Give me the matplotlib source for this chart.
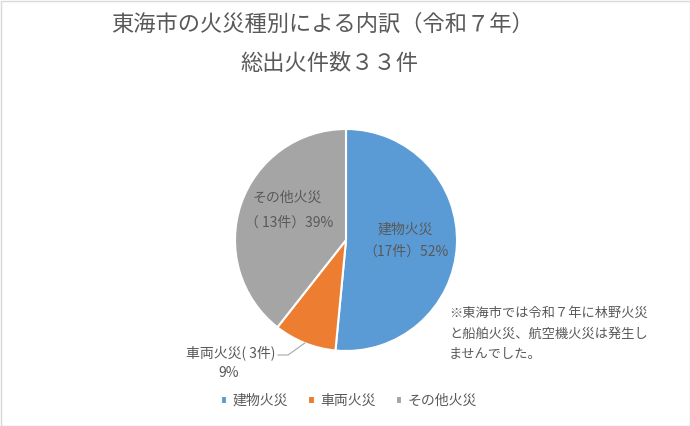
import numpy as np
import matplotlib
matplotlib.use("Agg")
import matplotlib.pyplot as plt
from matplotlib.patches import Rectangle

plt.rcParams['font.family'] = ['Noto Sans CJK JP', 'DejaVu Sans']

categories = ['建物火災', '車両火災', 'その他火災']
counts = [17, 3, 13]
colors = ['#5B9BD5', '#ED7D31', '#A5A5A5']
title_lines = ['東海市の火災種別による内訳（令和７年）', '総出火件数３３件']
note = '※東海市では令和７年に林野火災\nと船舶火災、航空機火災は発生し\nませんでした。'

TXT = '#595959'
W, H = 690, 426
fig = plt.figure(figsize=(W / 100, H / 100), dpi=100)
ax = fig.add_axes([0, 0, 1, 1])

cx, cy, R = 346, 186, 111
wedges, _ = ax.pie(counts, colors=colors, startangle=90, counterclock=False,
                   center=(cx, cy), radius=R, frame=True,
                   wedgeprops=dict(edgecolor='white', linewidth=1.5))
ax.set_xlim(0, W)
ax.set_ylim(0, H)
ax.set_aspect('equal')
ax.axis('off')

total = sum(counts)
pcts = [round(c / total * 100) for c in counts]

# inside labels
ax.text(405, H - 230, categories[0], ha='center', va='center', fontsize=10, color=TXT)
ax.text(406, H - 252, f'（{counts[0]}件）{pcts[0]}%', ha='center', va='center',
        fontsize=10, color=TXT)
ax.text(287, H - 198, categories[2], ha='center', va='center', fontsize=10, color=TXT)
ax.text(289, H - 223, f'（ {counts[2]}件）{pcts[2]}%', ha='center', va='center',
        fontsize=10, color=TXT)

# outside label for small slice with leader line
w = wedges[1]
mid = np.deg2rad((w.theta1 + w.theta2) / 2)
px, py = cx + 1.0 * R * np.cos(mid), cy + 1.0 * R * np.sin(mid)
ax.plot([px, 288, 278], [py, H - 355, H - 355], color='#A6A6A6', lw=0.8)
ax.text(231, H - 353, f'{categories[1]}( {counts[1]}件)', ha='center', va='center',
        fontsize=10, color=TXT)
ax.text(229, H - 373, f'{pcts[1]}%', ha='center', va='center', fontsize=10, color=TXT)

# titles
ax.text(322, H - 24, title_lines[0], ha='center', va='center', fontsize=16, color=TXT)
ax.text(329, H - 63, title_lines[1], ha='center', va='center', fontsize=16, color=TXT)

# note
ax.text(449, H - 307, note, ha='left', va='top', fontsize=9.5, color=TXT, linespacing=1.75)

# legend
ax.legend(wedges, categories, loc='center', bbox_to_anchor=(349 / W, 1 - 401 / H),
          ncol=3, frameon=False, fontsize=10, labelcolor=TXT,
          handlelength=0.45, handleheight=0.45, handletextpad=0.4, columnspacing=1.45,
          bbox_transform=fig.transFigure)

fig.patches.append(Rectangle((0.5, 0.5), W - 1, H - 1, transform=None, fill=False,
                             edgecolor='#D9D9D9', lw=1))
fig.savefig('out.png', dpi=100, facecolor='white')
